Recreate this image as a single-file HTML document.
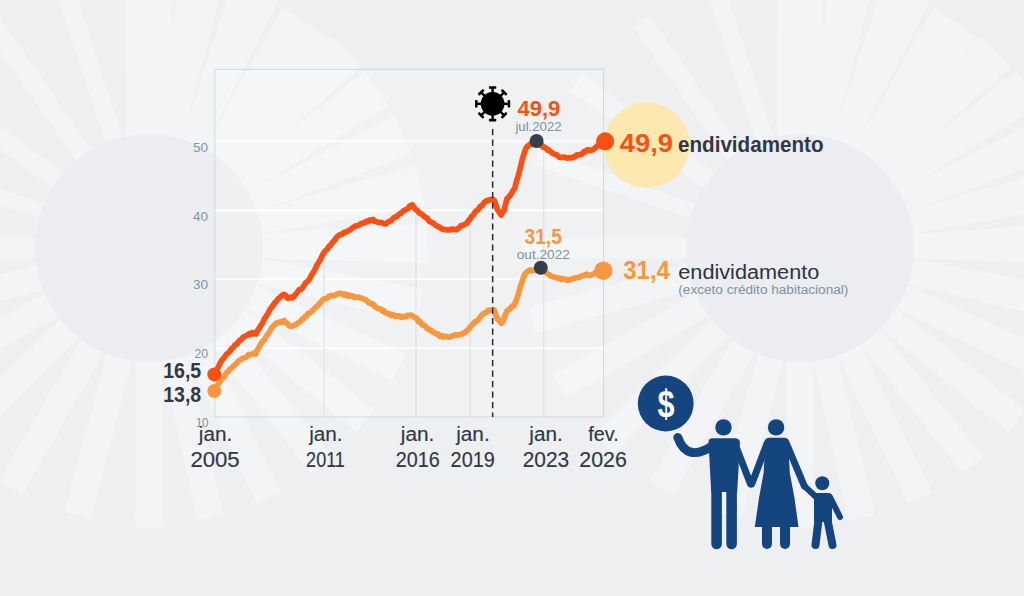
<!DOCTYPE html>
<html><head><meta charset="utf-8"><title>Endividamento</title>
<style>
html,body{margin:0;padding:0;background:#edeff1;}
body{width:1024px;height:596px;overflow:hidden;font-family:"Liberation Sans",sans-serif;}
svg{display:block;}
text{font-family:"Liberation Sans",sans-serif;}
</style></head><body>
<svg width="1024" height="596" viewBox="0 0 1024 596">
<rect width="1024" height="596" fill="#edeff1"/>
<g transform="translate(149,248)"><polygon transform="rotate(0.00)" points="-13.5,106 13.5,106 14.0,279 -14.0,279" fill="#f2f4f6"/><polygon transform="rotate(15.00)" points="-13.0,106 13.0,106 13.5,277 -13.5,277" fill="#f2f4f6"/><polygon transform="rotate(30.00)" points="-13.0,106 13.0,106 13.5,277 -13.5,277" fill="#f2f4f6"/><polygon transform="rotate(45.00)" points="-13.0,106 13.0,106 13.5,277 -13.5,277" fill="#f2f4f6"/><polygon transform="rotate(60.00)" points="-13.0,106 13.0,106 13.5,277 -13.5,277" fill="#f2f4f6"/><polygon transform="rotate(75.00)" points="-13.0,106 13.0,106 13.5,277 -13.5,277" fill="#f2f4f6"/><polygon transform="rotate(90.00)" points="-10.5,106 10.5,106 10.5,278 -10.5,278" fill="#f2f4f6"/><polygon transform="rotate(109.00)" points="-7.5,106 7.5,106 8.0,278 -8.0,278" fill="#f2f4f6"/><polygon transform="rotate(126.50)" points="-9.0,106 9.0,106 10.0,278 -10.0,278" fill="#f2f4f6"/><polygon transform="rotate(145.00)" points="-9.0,106 9.0,106 10.0,278 -10.0,278" fill="#f2f4f6"/><polygon transform="rotate(162.00)" points="-8.5,106 8.5,106 9.5,278 -9.5,278" fill="#f2f4f6"/><polygon transform="rotate(180.00)" points="-23.0,106 23.0,106 24.0,320 -24.0,320" fill="#f2f4f6"/><polygon transform="rotate(191.00)" points="-12.0,106 12.0,106 25.0,320 -25.0,320" fill="#f2f4f6"/><polygon transform="rotate(202.60)" points="-11.5,106 11.5,106 27.5,320 -27.5,320" fill="#f2f4f6"/><polygon transform="rotate(214.70)" points="-11.5,106 11.5,106 27.0,274 -27.0,274" fill="#f2f4f6"/><polygon transform="rotate(225.00)" points="-11.0,106 11.0,106 21.5,278 -21.5,278" fill="#f2f4f6"/><polygon transform="rotate(235.00)" points="-11.0,106 11.0,106 21.0,278 -21.0,278" fill="#f2f4f6"/><polygon transform="rotate(246.00)" points="-11.0,106 11.0,106 21.0,278 -21.0,278" fill="#f2f4f6"/><polygon transform="rotate(257.00)" points="-11.0,106 11.0,106 21.0,278 -21.0,278" fill="#f2f4f6"/><polygon transform="rotate(269.00)" points="-12.0,106 12.0,106 20.0,278 -20.0,278" fill="#f2f4f6"/><polygon transform="rotate(282.00)" points="-12.5,106 12.5,106 17.0,277 -17.0,277" fill="#f2f4f6"/><polygon transform="rotate(295.50)" points="-12.5,106 12.5,106 15.0,277 -15.0,277" fill="#f2f4f6"/><polygon transform="rotate(308.60)" points="-12.5,106 12.5,106 14.0,277 -14.0,277" fill="#f2f4f6"/><polygon transform="rotate(321.40)" points="-12.5,106 12.5,106 13.5,277 -13.5,277" fill="#f2f4f6"/><polygon transform="rotate(334.30)" points="-12.5,106 12.5,106 13.5,277 -13.5,277" fill="#f2f4f6"/><polygon transform="rotate(347.10)" points="-12.5,106 12.5,106 13.5,277 -13.5,277" fill="#f2f4f6"/><circle r="114" fill="#ecedf0"/></g><g transform="translate(800,248)"><polygon transform="rotate(0.00)" points="-13.5,106 13.5,106 14.0,279 -14.0,279" fill="#f2f4f6"/><polygon transform="rotate(15.00)" points="-13.0,106 13.0,106 13.5,277 -13.5,277" fill="#f2f4f6"/><polygon transform="rotate(30.00)" points="-13.0,106 13.0,106 13.5,277 -13.5,277" fill="#f2f4f6"/><polygon transform="rotate(45.00)" points="-13.0,106 13.0,106 13.5,277 -13.5,277" fill="#f2f4f6"/><polygon transform="rotate(60.00)" points="-13.0,106 13.0,106 13.5,277 -13.5,277" fill="#f2f4f6"/><polygon transform="rotate(75.00)" points="-13.0,106 13.0,106 13.5,277 -13.5,277" fill="#f2f4f6"/><polygon transform="rotate(90.00)" points="-10.5,106 10.5,106 10.5,278 -10.5,278" fill="#f2f4f6"/><polygon transform="rotate(109.00)" points="-7.5,106 7.5,106 8.0,278 -8.0,278" fill="#f2f4f6"/><polygon transform="rotate(126.50)" points="-9.0,106 9.0,106 10.0,278 -10.0,278" fill="#f2f4f6"/><polygon transform="rotate(145.00)" points="-9.0,106 9.0,106 10.0,278 -10.0,278" fill="#f2f4f6"/><polygon transform="rotate(162.00)" points="-8.5,106 8.5,106 9.5,278 -9.5,278" fill="#f2f4f6"/><polygon transform="rotate(180.00)" points="-23.0,106 23.0,106 24.0,320 -24.0,320" fill="#f2f4f6"/><polygon transform="rotate(191.00)" points="-12.0,106 12.0,106 25.0,320 -25.0,320" fill="#f2f4f6"/><polygon transform="rotate(202.60)" points="-11.5,106 11.5,106 27.5,320 -27.5,320" fill="#f2f4f6"/><polygon transform="rotate(214.70)" points="-11.5,106 11.5,106 27.0,274 -27.0,274" fill="#f2f4f6"/><polygon transform="rotate(225.00)" points="-11.0,106 11.0,106 21.5,278 -21.5,278" fill="#f2f4f6"/><polygon transform="rotate(235.00)" points="-11.0,106 11.0,106 21.0,278 -21.0,278" fill="#f2f4f6"/><polygon transform="rotate(246.00)" points="-11.0,106 11.0,106 21.0,278 -21.0,278" fill="#f2f4f6"/><polygon transform="rotate(257.00)" points="-11.0,106 11.0,106 21.0,278 -21.0,278" fill="#f2f4f6"/><polygon transform="rotate(269.00)" points="-12.0,106 12.0,106 20.0,278 -20.0,278" fill="#f2f4f6"/><polygon transform="rotate(282.00)" points="-12.5,106 12.5,106 17.0,277 -17.0,277" fill="#f2f4f6"/><polygon transform="rotate(295.50)" points="-12.5,106 12.5,106 15.0,277 -15.0,277" fill="#f2f4f6"/><polygon transform="rotate(308.60)" points="-12.5,106 12.5,106 14.0,277 -14.0,277" fill="#f2f4f6"/><polygon transform="rotate(321.40)" points="-12.5,106 12.5,106 13.5,277 -13.5,277" fill="#f2f4f6"/><polygon transform="rotate(334.30)" points="-12.5,106 12.5,106 13.5,277 -13.5,277" fill="#f2f4f6"/><polygon transform="rotate(347.10)" points="-12.5,106 12.5,106 13.5,277 -13.5,277" fill="#f2f4f6"/><circle r="114" fill="#ecedf0"/></g>
<!-- chart area -->
<rect x="214.8" y="69.4" width="388.7" height="347.6" fill="#ffffff" fill-opacity="0.17"/>
<g stroke="#ffffff" stroke-width="1.6">
<line x1="214.5" y1="141.4" x2="603.5" y2="141.4"/>
<line x1="214.5" y1="210.4" x2="603.5" y2="210.4"/>
<line x1="214.5" y1="279.3" x2="603.5" y2="279.3"/>
<line x1="214.5" y1="348.3" x2="603.5" y2="348.3"/>
</g>
<g stroke="#d9dfe3" stroke-width="1">
<line x1="324" y1="257" x2="324" y2="417"/>
<line x1="416" y1="208" x2="416" y2="417"/>
<line x1="470.2" y1="216" x2="470.2" y2="417"/>
<line x1="543.8" y1="146" x2="543.8" y2="417"/>
</g>
<rect x="214.8" y="69.4" width="388.7" height="347.6" fill="none" stroke="#d0d9de" stroke-width="1"/>
<!-- y labels -->
<g fill="#7f95a5" font-size="13.5" text-anchor="end">
<text x="208" y="151.8">50</text>
<text x="208" y="220.8">40</text>
<text x="208" y="289.4">30</text>
<text x="208.2" y="358.2" font-size="12.3">20</text>
<text x="207.6" y="427.3" font-size="12.2" letter-spacing="-0.9">10</text>
</g>
<!-- yellow circle -->
<circle cx="646.7" cy="145" r="43" fill="#fde8b0"/>
<!-- dashed -->
<!-- lines -->
<path d="M214.2,390.6 L215.7,389.1 L217.2,386.8 L218.8,382.7 L220.3,381.2 L221.9,378.2 L223.6,377.5 L225.2,375.1 L226.8,372.5 L228.5,371.2 L230.1,368.9 L231.8,367.8 L233.4,366.0 L234.9,364.9 L236.4,363.5 L238.0,361.4 L239.5,360.6 L241.0,359.4 L242.5,358.2 L244.0,357.9 L245.6,357.5 L247.1,356.4 L248.6,354.6 L250.0,354.6 L251.4,354.3 L252.8,353.8 L254.2,353.2 L255.6,354.0 L256.9,350.5 L258.2,348.8 L259.5,346.3 L261.1,343.5 L262.8,341.2 L264.5,339.7 L266.1,336.5 L267.6,334.5 L269.0,332.6 L270.5,330.0 L271.9,327.6 L273.4,326.2 L274.8,324.5 L276.6,322.9 L278.4,322.8 L280.2,321.9 L282.1,322.2 L284.0,320.6 L285.7,322.6 L287.3,323.3 L289.0,325.6 L290.4,326.3 L291.9,326.2 L293.3,325.6 L294.8,325.0 L296.4,324.4 L297.9,323.1 L299.5,322.2 L301.0,320.6 L302.3,319.0 L303.7,318.8 L305.0,316.5 L306.4,316.2 L307.9,313.5 L309.4,313.5 L310.8,312.2 L312.2,310.6 L313.7,309.5 L315.1,308.0 L316.6,306.3 L318.0,305.6 L319.5,303.2 L320.9,302.3 L322.4,300.1 L324.0,298.8 L325.7,298.9 L327.4,297.9 L329.0,296.2 L330.6,295.7 L332.3,295.5 L333.9,295.7 L335.5,294.9 L337.2,294.0 L338.8,293.6 L340.3,293.3 L341.8,293.8 L343.3,294.8 L344.8,294.1 L346.3,295.8 L347.8,294.8 L349.3,296.3 L350.8,295.8 L352.4,295.8 L353.9,297.3 L355.5,297.1 L357.0,297.1 L358.6,297.4 L360.1,298.0 L361.7,298.0 L363.1,299.0 L364.6,299.3 L366.0,299.9 L367.5,301.4 L368.9,303.0 L370.4,303.0 L371.9,304.2 L373.3,304.2 L374.8,306.6 L376.3,307.4 L377.7,308.7 L379.2,308.9 L380.6,309.1 L382.1,311.0 L383.5,310.6 L385.0,312.5 L386.4,312.6 L387.9,313.9 L389.3,313.7 L390.8,315.3 L392.2,314.3 L393.7,315.4 L395.2,316.4 L396.6,316.1 L398.1,315.8 L399.6,315.9 L401.2,317.3 L402.7,316.6 L404.2,316.9 L405.7,317.0 L407.3,315.4 L408.8,315.7 L410.4,315.1 L411.9,315.4 L413.4,316.7 L415.0,317.4 L416.6,318.3 L418.2,321.6 L419.9,321.4 L421.5,324.0 L423.0,325.5 L424.4,325.3 L425.9,326.8 L427.4,328.9 L428.8,328.8 L430.3,330.5 L431.9,330.8 L433.6,332.7 L435.2,333.1 L436.8,334.2 L438.4,334.1 L440.1,336.6 L441.8,335.7 L443.4,337.1 L444.9,336.1 L446.4,336.6 L448.0,337.0 L449.5,337.2 L451.0,336.6 L452.5,335.5 L454.0,335.6 L455.6,334.7 L457.1,335.1 L458.6,334.9 L460.1,334.7 L461.7,333.9 L463.2,333.4 L464.8,332.4 L466.3,331.2 L468.1,329.9 L469.9,327.5 L471.7,325.1 L473.4,323.7 L475.0,321.8 L476.6,321.3 L478.3,319.6 L480.1,317.3 L481.9,314.9 L483.7,313.7 L485.1,312.7 L486.4,312.7 L487.8,310.4 L489.2,310.2 L490.8,310.2 L492.4,309.7 L494.0,309.8 L495.7,314.4 L497.4,319.0 L499.3,320.5 L501.2,323.3 L502.6,321.8 L504.0,318.5 L505.5,314.2 L507.0,310.9 L508.3,310.1 L509.7,308.8 L511.0,308.0 L512.6,305.8 L514.2,305.4 L516.1,300.6 L518.0,295.6 L519.3,290.6 L520.6,286.0 L521.9,282.5 L523.5,277.3 L525.1,273.8 L526.8,271.8 L528.4,271.0 L529.8,270.0 L531.1,270.8 L532.5,270.3 L533.9,270.1 L535.5,270.3 L537.1,269.6 L538.7,269.0 L540.3,267.4 L541.8,268.2 L543.2,269.9 L544.6,270.8 L546.1,272.6 L547.6,273.7 L549.1,274.6 L550.7,275.9 L552.2,276.6 L553.7,277.1 L555.2,277.1 L556.7,277.9 L558.3,278.6 L559.8,278.1 L561.3,279.5 L562.8,278.7 L564.3,279.5 L565.8,279.1 L567.3,280.3 L568.8,279.5 L570.3,280.1 L571.8,278.9 L573.3,278.5 L574.9,278.1 L576.4,277.6 L577.9,277.7 L579.4,277.1 L580.9,276.4 L582.4,275.5 L583.9,275.6 L585.4,274.7 L586.9,274.2 L588.5,275.5 L590.0,275.6 L591.5,274.7 L593.0,274.5 L594.5,273.2 L596.0,272.7 L597.5,272.0 L598.9,271.6 L600.2,270.0 L601.6,270.1 L603.0,269.7" fill="none" stroke="#f8973e" stroke-width="5.7" stroke-linejoin="round" stroke-linecap="round"/>
<path d="M214.2,374.3 L215.7,370.7 L217.2,369.2 L218.8,366.1 L220.3,362.7 L221.9,360.1 L223.6,358.3 L225.2,356.1 L226.8,354.0 L228.5,352.6 L230.1,351.2 L231.8,348.3 L233.4,347.4 L235.0,344.7 L236.7,344.4 L238.3,341.9 L239.9,340.2 L241.5,339.5 L243.2,336.9 L244.8,336.5 L246.4,335.4 L247.8,335.2 L249.2,333.6 L250.5,334.3 L251.9,332.8 L253.4,333.9 L254.8,332.6 L256.3,333.9 L257.7,330.2 L259.2,328.4 L260.6,325.6 L262.2,323.7 L263.9,319.9 L265.6,316.9 L267.2,314.7 L268.7,312.2 L270.2,309.0 L271.8,307.0 L273.3,305.0 L274.8,302.7 L276.6,300.9 L278.4,298.6 L280.2,297.3 L282.1,295.3 L284.0,294.4 L285.3,295.2 L286.6,297.0 L287.9,298.4 L289.3,297.8 L290.8,297.2 L292.2,297.9 L293.6,297.0 L294.9,295.0 L296.3,293.6 L297.7,291.8 L299.3,289.6 L300.9,289.5 L302.6,287.6 L304.2,285.3 L305.6,282.9 L306.9,281.7 L308.3,280.8 L309.7,278.7 L311.5,275.1 L313.1,272.5 L314.8,269.9 L316.5,266.0 L318.1,263.1 L319.6,261.0 L321.1,258.0 L322.7,254.6 L324.2,252.2 L325.8,250.4 L327.4,249.0 L329.0,246.3 L330.6,245.2 L332.2,242.7 L333.9,241.1 L335.5,239.1 L337.0,236.7 L338.4,235.7 L339.9,234.7 L341.5,234.6 L343.1,233.1 L344.8,232.0 L346.4,231.9 L348.0,230.9 L349.7,230.1 L351.4,228.9 L353.0,227.5 L354.5,226.5 L356.0,225.9 L357.6,225.3 L359.1,225.1 L360.6,223.8 L362.1,223.4 L363.6,222.7 L365.2,222.5 L366.7,221.1 L368.2,221.6 L369.8,220.0 L371.4,220.5 L373.0,219.4 L374.7,221.3 L376.4,221.5 L378.1,222.3 L379.7,222.5 L381.4,222.4 L383.0,223.4 L384.6,223.8 L386.1,223.8 L387.6,222.6 L389.2,221.2 L390.7,221.0 L392.2,219.4 L393.9,217.6 L395.5,216.9 L397.1,216.5 L398.8,214.4 L400.4,213.5 L402.1,212.2 L403.7,210.7 L405.3,210.1 L406.7,209.1 L408.1,208.8 L409.5,206.0 L410.9,206.4 L412.3,204.8 L414.0,207.4 L415.6,209.5 L417.3,210.7 L418.7,212.3 L420.1,213.5 L421.5,214.0 L423.0,215.3 L424.4,216.6 L425.9,217.7 L427.4,218.2 L428.8,221.0 L430.3,221.6 L431.9,222.8 L433.6,223.2 L435.2,224.9 L436.8,226.0 L438.2,226.8 L439.6,227.3 L440.9,228.1 L442.3,229.2 L443.8,229.4 L445.3,229.7 L446.9,229.8 L448.4,229.7 L449.9,229.9 L451.5,229.0 L453.1,229.4 L454.8,229.3 L456.4,229.9 L457.9,228.6 L459.5,227.7 L461.0,225.5 L462.6,225.4 L464.1,224.7 L465.7,224.0 L467.3,222.7 L468.8,220.1 L470.2,219.0 L471.7,216.2 L473.4,214.9 L475.0,212.1 L476.6,210.3 L478.3,209.6 L480.1,206.5 L481.9,205.8 L483.7,203.1 L485.1,201.8 L486.4,200.7 L487.8,200.9 L489.2,199.8 L490.8,199.6 L492.4,199.2 L494.0,200.2 L495.7,204.3 L497.4,209.6 L499.3,212.4 L501.2,215.1 L502.6,212.3 L504.0,210.7 L505.5,204.3 L507.0,198.7 L508.3,197.6 L509.7,195.7 L511.0,194.3 L512.3,191.8 L513.6,189.9 L514.9,187.8 L516.8,180.3 L518.6,174.7 L520.5,166.8 L522.3,159.4 L524.0,153.8 L525.8,148.5 L527.6,146.1 L529.5,144.8 L530.9,143.4 L532.3,144.2 L533.7,142.7 L535.1,141.4 L536.5,141.3 L538.1,143.0 L539.8,144.9 L541.5,144.8 L543.1,147.2 L544.6,147.2 L546.1,148.3 L547.7,150.3 L549.2,150.2 L550.7,151.7 L552.2,153.0 L553.7,153.9 L555.2,154.5 L556.7,154.8 L558.2,156.3 L559.7,157.5 L561.2,157.5 L562.8,157.2 L564.3,157.0 L565.8,157.8 L567.3,158.1 L568.8,157.6 L570.3,157.9 L571.8,157.8 L573.3,156.8 L574.8,156.8 L576.4,155.1 L577.9,154.9 L579.4,154.7 L580.9,154.7 L582.4,153.6 L583.9,151.6 L585.4,151.8 L586.9,150.2 L588.4,149.7 L590.0,150.7 L591.5,150.2 L593.0,149.6 L594.5,148.5 L596.0,147.2 L597.5,145.7 L599.0,145.7 L600.5,145.3 L602.0,142.5 L603.6,142.9 L605.1,141.1" fill="none" stroke="#fb5012" stroke-width="5.7" stroke-linejoin="round" stroke-linecap="round"/>
<circle cx="214.3" cy="374.4" r="7" fill="#fb5012"/>
<circle cx="214.3" cy="391" r="7" fill="#f8973e"/>
<circle cx="605.1" cy="141.3" r="9" fill="#fb5012"/>
<circle cx="603.3" cy="270.8" r="9.2" fill="#f8973e"/>
<circle cx="536.6" cy="141" r="7" fill="#353f4b"/>
<circle cx="540.8" cy="267.8" r="7" fill="#353f4b"/>
<line x1="492.65" y1="129" x2="492.65" y2="417" stroke="#2a2a2a" stroke-width="1.5" stroke-dasharray="6.3 4.2"/>
<!-- covid -->
<g fill="#000"><circle cx="492.6" cy="103.8" r="11.9" fill="#000"/><g transform="translate(492.6,103.8) rotate(0)"><rect x="-1.2" y="-16.6" width="2.4" height="6"/><rect x="-3.7" y="-17.6" width="7.4" height="2.6" rx="0.9"/></g><g transform="translate(492.6,103.8) rotate(45)"><rect x="-1.2" y="-16.6" width="2.4" height="6"/><rect x="-3.7" y="-17.6" width="7.4" height="2.6" rx="0.9"/></g><g transform="translate(492.6,103.8) rotate(90)"><rect x="-1.2" y="-16.6" width="2.4" height="6"/><rect x="-3.7" y="-17.6" width="7.4" height="2.6" rx="0.9"/></g><g transform="translate(492.6,103.8) rotate(135)"><rect x="-1.2" y="-16.6" width="2.4" height="6"/><rect x="-3.7" y="-17.6" width="7.4" height="2.6" rx="0.9"/></g><g transform="translate(492.6,103.8) rotate(180)"><rect x="-1.2" y="-16.6" width="2.4" height="6"/><rect x="-3.7" y="-17.6" width="7.4" height="2.6" rx="0.9"/></g><g transform="translate(492.6,103.8) rotate(225)"><rect x="-1.2" y="-16.6" width="2.4" height="6"/><rect x="-3.7" y="-17.6" width="7.4" height="2.6" rx="0.9"/></g><g transform="translate(492.6,103.8) rotate(270)"><rect x="-1.2" y="-16.6" width="2.4" height="6"/><rect x="-3.7" y="-17.6" width="7.4" height="2.6" rx="0.9"/></g><g transform="translate(492.6,103.8) rotate(315)"><rect x="-1.2" y="-16.6" width="2.4" height="6"/><rect x="-3.7" y="-17.6" width="7.4" height="2.6" rx="0.9"/></g></g>
<!-- labels -->
<text x="517.5" y="116.3" font-size="21.7" font-weight="bold" fill="#fb5012" textLength="42.8" lengthAdjust="spacingAndGlyphs">49,9</text>
<text x="515.4" y="130.8" font-size="12.3" fill="#7d919f" textLength="46.2" lengthAdjust="spacingAndGlyphs">jul.2022</text>
<text x="524.5" y="243.9" font-size="22" font-weight="bold" fill="#f8973e" textLength="37.4" lengthAdjust="spacingAndGlyphs">31,5</text>
<text x="516.8" y="258.8" font-size="12.3" fill="#7d919f" textLength="53" lengthAdjust="spacingAndGlyphs">out.2022</text>
<text x="619.8" y="152.2" font-size="26" font-weight="bold" fill="#fb5012" textLength="53.2" lengthAdjust="spacingAndGlyphs">49,9</text>
<text x="678" y="152.2" font-size="21.3" font-weight="bold" fill="#2f3844" textLength="145.5" lengthAdjust="spacingAndGlyphs">endividamento</text>
<text x="623.3" y="279.2" font-size="26" font-weight="bold" fill="#f8973e" textLength="46.6" lengthAdjust="spacingAndGlyphs">31,4</text>
<text x="678.3" y="278.5" font-size="20" fill="#2b3440" textLength="141" lengthAdjust="spacingAndGlyphs">endividamento</text>
<text x="678.3" y="293.6" font-size="12.3" fill="#7d919f" textLength="170" lengthAdjust="spacingAndGlyphs">(exceto crédito habitacional)</text>
<text x="163.2" y="377.8" font-size="21.5" font-weight="bold" fill="#2f3844" textLength="38" lengthAdjust="spacingAndGlyphs">16,5</text>
<text x="163.2" y="402" font-size="21.5" font-weight="bold" fill="#2f3844" textLength="38" lengthAdjust="spacingAndGlyphs">13,8</text>
<!-- x labels -->
<g fill="#2f3844" font-size="20" stroke="#2f3844" stroke-width="0.15">
<text x="198.8" y="441.2" textLength="33.4" lengthAdjust="spacingAndGlyphs">jan.</text>
<text x="190.4" y="466.5" font-size="21.5" textLength="49.3" lengthAdjust="spacingAndGlyphs">2005</text>
<text x="309.2" y="441.2" textLength="33.4" lengthAdjust="spacingAndGlyphs">jan.</text>
<text x="306.1" y="466.5" font-size="21.5" textLength="38.8" lengthAdjust="spacingAndGlyphs">2011</text>
<text x="400.8" y="441.2" textLength="33.6" lengthAdjust="spacingAndGlyphs">jan.</text>
<text x="395.7" y="466.5" font-size="21.5" textLength="44" lengthAdjust="spacingAndGlyphs">2016</text>
<text x="456.2" y="441.2" textLength="33.5" lengthAdjust="spacingAndGlyphs">jan.</text>
<text x="450.6" y="466.5" font-size="21.5" textLength="44.2" lengthAdjust="spacingAndGlyphs">2019</text>
<text x="529.3" y="441.2" textLength="33.5" lengthAdjust="spacingAndGlyphs">jan.</text>
<text x="522.7" y="466.5" font-size="21.5" textLength="46.5" lengthAdjust="spacingAndGlyphs">2023</text>
<text x="588.2" y="441.2" textLength="30.5" lengthAdjust="spacingAndGlyphs">fev.</text>
<text x="579.3" y="466.5" font-size="21.5" textLength="47.5" lengthAdjust="spacingAndGlyphs">2026</text>
</g>
<g fill="#14457f" stroke="#14457f" stroke-linecap="round" stroke-linejoin="round"><circle cx="665.7" cy="403.5" r="27.9" stroke="none"/><circle cx="723.5" cy="427.4" r="8.2" stroke="none"/><path d="M708.5,442 Q708.5,438.3 712.5,438.3 L735,438.3 Q739,438.3 740,442 L737.2,492 L711.2,492 Z" stroke="none"/><path d="M716.6,480 L716.6,544" stroke-width="10.6" fill="none"/><path d="M731.6,480 L731.6,544" stroke-width="10.6" fill="none"/><path d="M713,445.5 Q687,463 677.8,437.5" stroke-width="9" fill="none"/><path d="M735,444 L750.5,484" stroke-width="7" fill="none"/><circle cx="776.1" cy="427.4" r="8.2" stroke="none"/><path d="M765.3,441.5 Q765.3,437.8 769,437.8 L784.5,437.8 Q788.2,437.8 788.2,441.5 L789.8,473 L794.5,498 L798.5,527 L754.8,527 L759,498 L763.6,473 Z" stroke="none"/><path d="M767,524 L767,544" stroke-width="10" fill="none"/><path d="M785,524 L785,544" stroke-width="10" fill="none"/><path d="M767.5,442.5 L751.7,484" stroke-width="7" fill="none"/><path d="M786,442.5 L804.3,486" stroke-width="7" fill="none"/><circle cx="822.3" cy="483.2" r="7" stroke="none"/><path d="M816,493 L829,493 Q832,493.5 832,497 L832,522 L814,522 L814,497 Q814,493.5 816,493 Z" stroke="none"/><path d="M818.5,520 L815.5,545" stroke-width="8" fill="none"/><path d="M827.5,520 L832.5,545" stroke-width="8" fill="none"/><path d="M816,497 L805.5,487" stroke-width="6" fill="none"/><path d="M830,497 L840,517" stroke-width="6" fill="none"/></g><text transform="translate(665.9,417) scale(0.85,1.1)" x="0" y="0" font-size="36" font-weight="bold" fill="#fff" text-anchor="middle">$</text>
</svg>
</body></html>
